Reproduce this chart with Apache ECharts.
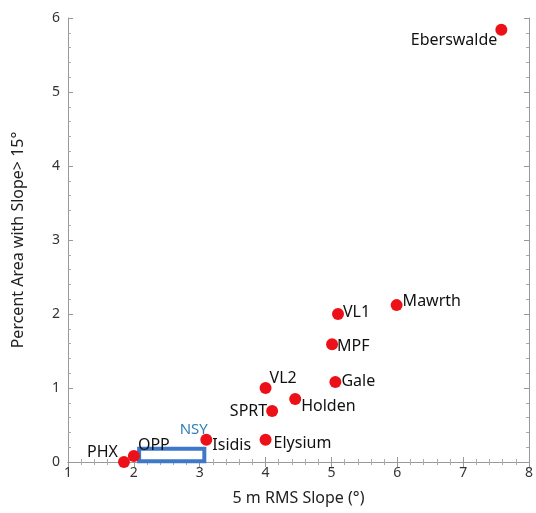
<!DOCTYPE html>
<html>
<head>
<meta charset="utf-8">
<script src="https://cdn.jsdelivr.net/npm/echarts@6/dist/echarts.min.js"></script>
<style>
  html, body { margin: 0; padding: 0; background: #fff; }
  #main { width: 536px; height: 513px; }
</style>
</head>
<body>
<div id="main"></div>
<script>
// sites, x = 5 m RMS slope (deg), y = percent area with slope > 15 deg
var sites = ['Eberswalde', 'Mawrth', 'VL1', 'MPF', 'Gale', 'VL2', 'Holden', 'SPRT', 'Elysium', 'Isidis', 'OPP', 'PHX'];
var rmsSlope = [7.58, 5.99, 5.10, 5.01, 5.06, 4.00, 4.45, 4.10, 4.00, 3.10, 2.00, 1.85];
var pctArea = [5.84, 2.12, 2.00, 1.59, 1.08, 1.00, 0.85, 0.69, 0.30, 0.30, 0.08, 0.00];
// NSY range box
var nsyRange = [2.08, 3.07];
var nsyHeight = [0.01, 0.18];

// label placement per site
var labelPos = {
  Eberswalde: { position: 'left', offset: [4, 11] },
  Mawrth: { position: 'right', offset: [-2, -4] },
  VL1: { position: 'right', offset: [-3, -2] },
  MPF: { position: 'right', offset: [-3, 2] },
  Gale: { position: 'right', offset: [-2, -1] },
  VL2: { position: 'right', offset: [-4, -10] },
  Holden: { position: 'right', offset: [-2, 7] },
  SPRT: { position: 'left', offset: [3, 0] },
  Elysium: { position: 'right', offset: [0, 4] },
  Isidis: { position: 'right', offset: [-2, 6] },
  OPP: { position: 'top', offset: [20, 5] },
  PHX: { position: 'left', offset: [2, -10] }
};

var myChart = echarts.init(document.getElementById('main'));

var points = sites.map(function (name, i) {
  var p = labelPos[name];
  return {
    name: name,
    value: [rmsSlope[i], pctArea[i]],
    label: { show: true, position: p.position, offset: p.offset, distance: 2 }
  };
});

var axisCommon = {
  min: 0, max: 6, interval: 1,
  axisLine: { show: true, lineStyle: { color: '#999', width: 1 } },
  axisTick: { show: true, inside: true, length: 5, lineStyle: { color: '#999' } },
  minorTick: { show: true, splitNumber: 5, length: 3, lineStyle: { color: '#aaa' } },
  splitLine: { show: false },
  minorSplitLine: { show: false }
};

myChart.setOption({
  backgroundColor: '#fff',
  animation: false,
  grid: { left: 68, right: 4, top: 18, bottom: 51 },
  xAxis: [
    Object.assign({}, axisCommon, {
      min: 1, max: 8,
      name: '5 m RMS Slope (°)',
      nameLocation: 'middle',
      nameGap: 28,
      nameTextStyle: { fontSize: 16, color: '#222', fontFamily: 'Noto Sans' },
      axisLabel: { fontSize: 14, color: '#333', margin: 4, fontFamily: 'Noto Sans' }
    }),
    Object.assign({}, axisCommon, {
      min: 1, max: 8, position: 'top',
      axisLabel: { show: false }
    })
  ],
  yAxis: [
    Object.assign({}, axisCommon, {
      name: 'Percent Area with Slope> 15°',
      nameLocation: 'middle',
      nameGap: 42,
      nameTextStyle: { fontSize: 16, color: '#222', fontFamily: 'Noto Sans' },
      axisLabel: { fontSize: 14, color: '#333', margin: 8, fontFamily: 'Noto Sans' }
    }),
    Object.assign({}, axisCommon, {
      position: 'right',
      axisLabel: { show: false }
    })
  ],
  series: [
    {
      type: 'scatter',
      symbolSize: 12,
      itemStyle: { color: '#ec1118', opacity: 1 },
      label: { color: '#111', fontSize: 16, fontFamily: 'Noto Sans', formatter: '{b}' },
      data: points,
      z: 5,
      markArea: {
        silent: true,
        itemStyle: { color: '#fff', borderColor: '#3e78c8', borderWidth: 4 },
        label: {
          show: true, position: 'top', distance: 9,
          color: '#2f80b8', fontSize: 15, fontFamily: 'Noto Sans',
          offset: [22, 0]
        },
        data: [[
          { name: 'NSY', coord: [nsyRange[0], nsyHeight[0]] },
          { coord: [nsyRange[1], nsyHeight[1]] }
        ]]
      }
    }
  ]
});
</script>
</body>
</html>
